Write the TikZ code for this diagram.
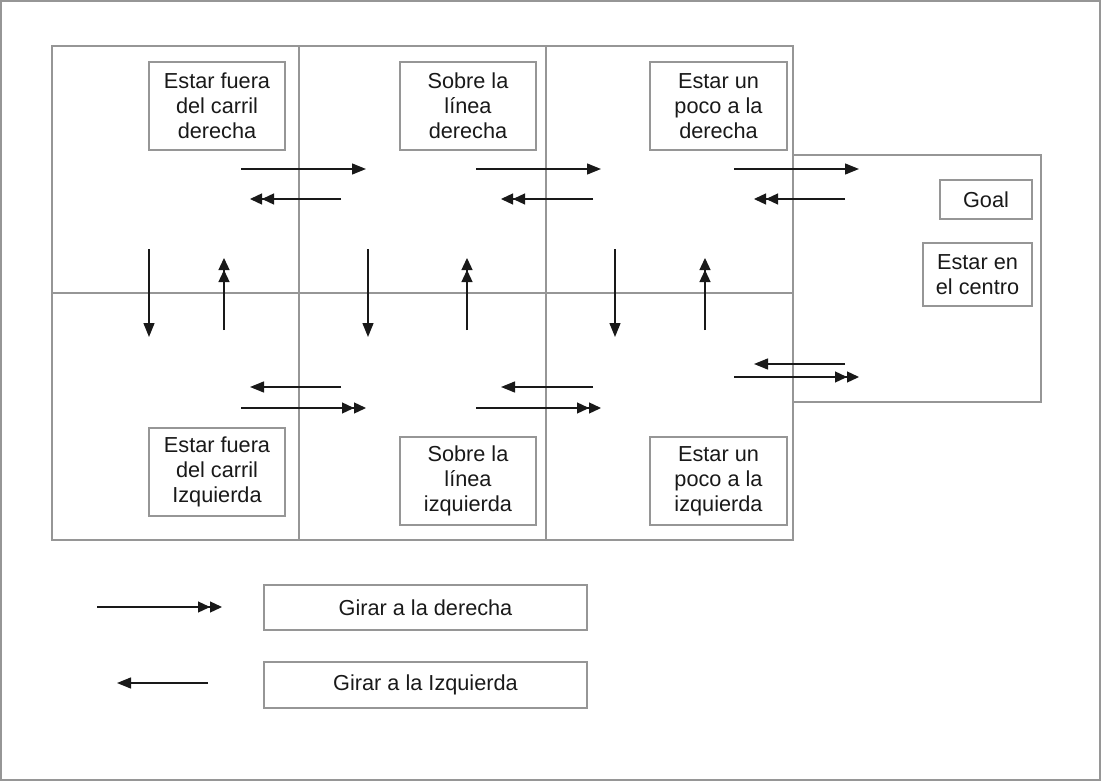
\documentclass[tikz,border=0pt]{standalone}
\usepackage{fontspec}
\setmainfont{Liberation Sans}
\usetikzlibrary{arrows.meta}
\definecolor{gridgray}{RGB}{150,150,150}
\definecolor{inkc}{RGB}{25,25,25}
\tikzset{
  gline/.style={draw=gridgray, line width=1.3pt},
  statebox/.style={draw=gridgray, line width=1.3pt, align=center, inner sep=0pt,
    font=\fontsize{21.7}{25}\selectfont, text=inkc},
  onehead/.style={draw=inkc, line width=1.3pt, -{Triangle[length=14pt,width=11pt]}},
  twohead/.style={draw=inkc, line width=1.3pt, -{Triangle[length=12pt,width=11pt]Triangle[length=12pt,width=11pt]}},
}
\begin{document}
\begin{tikzpicture}[x=1pt,y=-1pt]
\useasboundingbox (0,0) rectangle (1101,781);
\draw[gline] (1,1) rectangle (1100,780);
% grid
\draw[gline] (52,46) rectangle (793,540);
\draw[gline] (299,46) -- (299,540);
\draw[gline] (546,46) -- (546,540);
\draw[gline] (52,293) -- (793,293);
\draw[gline] (793,155) -- (1041,155) -- (1041,402) -- (793,402);
% state boxes
\node[statebox, minimum width=136pt, minimum height=88pt] (a1) at (217,106) {Estar fuera\\del carril\\derecha};
\node[statebox, minimum width=136pt, minimum height=88pt] (a2) at (468,106) {Sobre la\\línea\\derecha};
\node[statebox, minimum width=137pt, minimum height=88pt] (a3) at (718.5,106) {Estar un\\poco a la\\derecha};
\node[statebox, minimum width=136pt, minimum height=88pt] (b1) at (217,472) {Estar fuera\\del carril\\Izquierda};
\node[statebox, minimum width=136pt, minimum height=88pt] (b2) at (468,481) {Sobre la\\línea\\izquierda};
\node[statebox, minimum width=137pt, minimum height=88pt] (b3) at (718.5,481) {Estar un\\poco a la\\izquierda};
\node[statebox, minimum width=92pt, minimum height=39pt] (goal) at (986,199.5) {Goal};
\node[statebox, minimum width=109pt, minimum height=63pt] (centro) at (977.5,274.5) {Estar en\\el centro};
\node[statebox, minimum width=323pt, minimum height=45pt] (leg1) at (425.5,607.5) {Girar a la derecha};
\node[statebox, minimum width=323pt, minimum height=46pt] (leg2) at (425.5,685) {Girar a la Izquierda};
% coordinates for arrows
\coordinate (r1s) at (241,169); \coordinate (r1e) at (366,169);
\coordinate (r2s) at (476,169); \coordinate (r2e) at (601,169);
\coordinate (r3s) at (734,169); \coordinate (r3e) at (859,169);
\coordinate (l1s) at (341,199); \coordinate (l1e) at (250,199);
\coordinate (l2s) at (593,199); \coordinate (l2e) at (501,199);
\coordinate (l3s) at (845,199); \coordinate (l3e) at (754,199);
\coordinate (d1s) at (149,249); \coordinate (d1e) at (149,337);
\coordinate (d2s) at (368,249); \coordinate (d2e) at (368,337);
\coordinate (d3s) at (615,249); \coordinate (d3e) at (615,337);
\coordinate (u1s) at (224,330); \coordinate (u1e) at (224,258);
\coordinate (u2s) at (467,330); \coordinate (u2e) at (467,258);
\coordinate (u3s) at (705,330); \coordinate (u3e) at (705,258);
\coordinate (bl1s) at (341,387); \coordinate (bl1e) at (250,387);
\coordinate (bl2s) at (593,387); \coordinate (bl2e) at (501,387);
\coordinate (bl3s) at (845,364); \coordinate (bl3e) at (754,364);
\coordinate (br1s) at (241,408); \coordinate (br1e) at (366,408);
\coordinate (br2s) at (476,408); \coordinate (br2e) at (601,408);
\coordinate (br3s) at (734,377); \coordinate (br3e) at (859,377);
\coordinate (kr1s) at (97,607); \coordinate (kr1e) at (222,607);
\coordinate (kl1s) at (208,683); \coordinate (kl1e) at (117,683);
% arrows
\draw[onehead] (r1s) -- (r1e);
\draw[onehead] (r2s) -- (r2e);
\draw[onehead] (r3s) -- (r3e);
\draw[twohead] (l1s) -- (l1e);
\draw[twohead] (l2s) -- (l2e);
\draw[twohead] (l3s) -- (l3e);
\draw[onehead] (d1s) -- (d1e);
\draw[onehead] (d2s) -- (d2e);
\draw[onehead] (d3s) -- (d3e);
\draw[twohead] (u1s) -- (u1e);
\draw[twohead] (u2s) -- (u2e);
\draw[twohead] (u3s) -- (u3e);
\draw[onehead] (bl1s) -- (bl1e);
\draw[onehead] (bl2s) -- (bl2e);
\draw[onehead] (bl3s) -- (bl3e);
\draw[twohead] (br1s) -- (br1e);
\draw[twohead] (br2s) -- (br2e);
\draw[twohead] (br3s) -- (br3e);
\draw[twohead] (kr1s) -- (kr1e);
\draw[onehead] (kl1s) -- (kl1e);
\end{tikzpicture}
\end{document}
